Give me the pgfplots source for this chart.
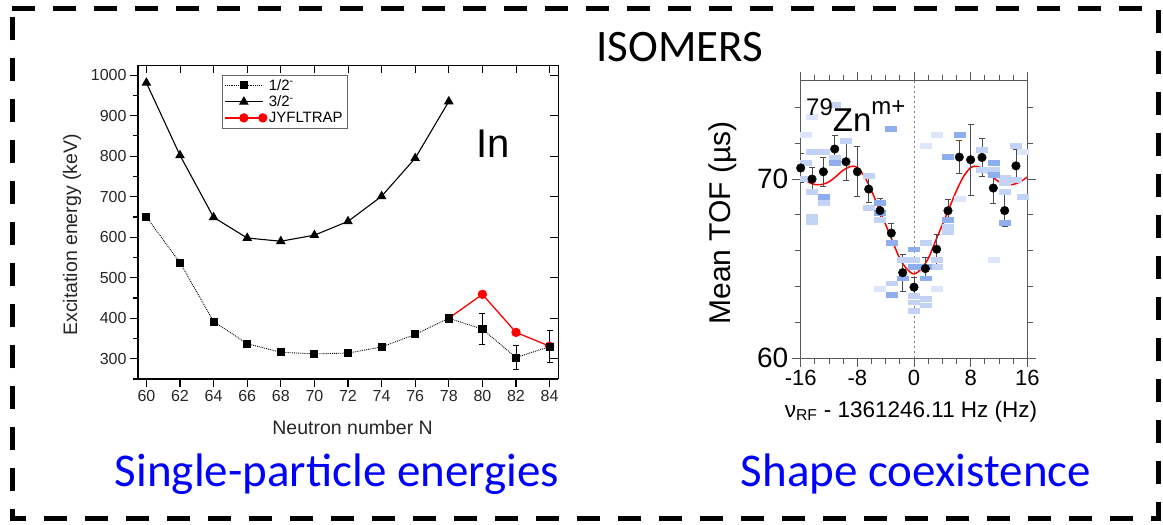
\documentclass[border=0pt]{standalone}
\usepackage{pgfplots}
\pgfplotsset{compat=1.18}
\usepackage{fontspec}
\setmainfont{Liberation Sans}
\newfontfamily\calfont{Carlito}
\definecolor{vlb}{HTML}{DDE6FA}
\definecolor{lb}{HTML}{C3D3F6}
\definecolor{mb}{HTML}{8EAEF0}
\definecolor{capblue}{HTML}{0000FF}
\begin{document}
\begin{tikzpicture}
% ---------- left plot ----------
\begin{axis}[at={(138pt,146pt)}, anchor=south west, scale only axis, width=420pt, height=314pt,
 xmin=59.5, xmax=84.5, ymin=250, ymax=1025,
 axis x line*=bottom, axis y line*=left,
 axis line style={line width=1.6pt,-},
 xtick={60,62,...,84}, xticklabels={60,62,64,66,68,70,72,74,76,78,80,82,84},
 ytick={300,400,...,1000}, yticklabels={300,400,500,600,700,800,900,1000},
 minor ytick={250,350,...,950},
 tick align=outside, major tick length=8pt, minor tick length=5pt,
 tick style={black, line width=1.2pt},
 ticklabel style={font=\fontsize{16}{16}\selectfont, text=black!85},
 xlabel={Neutron number N}, ylabel={Excitation energy (keV)},
 every axis x label/.style={at={(axis description cs:0.511,-0.178)}, anchor=base, font=\fontsize{19.5}{19.5}\selectfont, text=black!85},
 every axis y label/.style={at={(axis description cs:-0.157,0.459)}, anchor=center, rotate=90, font=\fontsize{19.5}{19.5}\selectfont, text=black!85},
 legend style={at={(0.2,0.968)}, anchor=north west, draw=black!60, font=\fontsize{15}{15}\selectfont, row sep=0pt, inner sep=2pt, cells={anchor=west}},
 legend image code/.code={\draw[mark repeat=2, mark phase=2, #1] plot coordinates {(0pt,0pt) (19pt,0pt) (38pt,0pt)};},
]
\addplot[black, line width=0.9pt, densely dotted, mark=square*, mark size=3.5pt, mark options={solid}]
 coordinates {(60,650) (62,537) (64,392) (66,337) (68,316) (70,312) (72,314) (74,329) (76,360) (78,400) (80,373) (82,303) (84,330)};
\addlegendentry{1/2\textsuperscript{-}}
\addplot[black, line width=1.1pt, mark=triangle*, mark size=4.5pt, mark options={solid}]
 coordinates {(60,981) (62,802) (64,649) (66,598) (68,590) (70,605) (72,639) (74,701) (76,795) (78,935)};
\addlegendentry{3/2\textsuperscript{-}}
\addplot[red, line width=1.3pt, mark=*, mark size=4pt, mark indices={2,3,4}]
 coordinates {(78,400) (80,459) (82,365) (84,331)};
\addlegendentry{JYFLTRAP}
\addplot[forget plot, only marks, black, mark=square*, mark size=3.5pt] coordinates {(78,400)};
\addplot[forget plot, only marks, black, mark=square*, mark size=3.5pt,
 error bars/.cd, y dir=both, y explicit, error bar style={black, line width=0.8pt},
 error mark options={rotate=90, black, mark size=3pt, line width=0.8pt}]
 coordinates {(80,373) +- (0,38) (82,303) +- (0,30) (84,330) +- (0,40)};
\end{axis}
\begin{axis}[at={(138pt,146pt)}, anchor=south west, scale only axis, width=420pt, height=314pt,
 xmin=59.5, xmax=84.5, ymin=250, ymax=1025,
 axis x line*=top, axis y line*=right, axis line style={line width=0.8pt,-},
 xtick={60,62,...,84}, xticklabels={}, ytick={300,400,...,1000}, yticklabels={},
 tick align=inside, major tick length=8pt, tick style={black, line width=1pt}]
\end{axis}

% ---------- right plot ----------
\begin{axis}[at={(800.7pt,167pt)}, anchor=south west, scale only axis, width=226.6pt, height=277.3pt,
 xmin=-16, xmax=16, ymin=60, ymax=75.5,
 axis line style={line width=0.9pt, black!65},
 tick align=outside, xtick pos=both, ytick pos=both,
 xtick={-16,-8,0,8,16}, xticklabels={-16,-8,0,8,16},
 minor xtick={-14,-12,-10,-6,-4,-2,2,4,6,10,12,14},
 ytick={60,70}, yticklabels={60,70}, minor ytick={62,64,66,68,72,74},
 major tick length=9pt, minor tick length=6pt,
 tick style={black!65, line width=0.9pt},
 xticklabel style={font=\fontsize{22}{22}\selectfont},
 yticklabel style={font=\fontsize{28}{28}\selectfont},
 xlabel={ν\textsubscript{RF} - 1361246.11 Hz (Hz)}, ylabel={Mean TOF (µs)},
 every axis x label/.style={at={(axis description cs:0.487,-0.213)}, anchor=base, font=\fontsize{22.5}{22.5}\selectfont},
 every axis y label/.style={at={(axis description cs:-0.345,0.487)}, anchor=center, rotate=90, font=\fontsize{30}{30}\selectfont},
]
\addplot[only marks, color=vlb, mark=square*, mark size=5.5pt, mark options={yscale=0.45, draw=vlb, fill=vlb}]
 coordinates {(-14.4,73.5) (3.2,72.5) (1.6,71.85) (15.3,71.55) (-4.8,63.85) (3.2,63.9) (6.4,68.93) (11.2,65.5) (-15.3,72.5)};
\addplot[only marks, color=lb, mark=square*, mark size=5.5pt, mark options={yscale=0.45, draw=lb, fill=lb}]
 coordinates {(-11.2,74.15) (-9.6,72.16) (-14.4,71.55) (-12.8,71.55) (9.6,71.64) (14.4,71.86) (11.2,70.5) (-11.2,71.2) (-6.4,70.2) (12.8,70.1) (-15.3,70.0) (-14.4,69.32) (-12.8,68.66) (-14.4,67.92) (-14.4,67.6) (-6.4,68.38) (-4.8,67.72) (1.6,66.42) (-1.6,65.5) (0,65.5) (3.2,65.5) (3.2,65.12) (-3.2,64.18) (0,63.49) (0,63.12) (0,62.65) (1.6,63.3) (1.6,62.95) (4.8,67.35) (4.8,67.07) (12.8,69.77) (12.8,69.3) (15.3,69.03) (14.4,69.96) (-15.3,70.9) (9.6,70.5)};
\addplot[only marks, color=mb, mark=square*, mark size=5.5pt, mark options={yscale=0.45, draw=mb, fill=mb}]
 coordinates {(-3.3,72.8) (6.4,72.48) (4.8,71.23) (11.2,70.9) (-11.2,70.9) (-12.8,69.0) (-4.8,68.66) (-4.8,68.14) (-3.2,66.42) (0,66.08) (-1.6,64.46) (0,65.12) (1.6,65.12) (1.6,64.46) (-3.2,63.53) (4.8,67.72) (12.8,67.54) (11.2,70.24)};
\addplot[black!50, line width=1pt, dash pattern=on 1.5pt off 3.5pt] coordinates {(0,60) (0,75.5)};
\addplot[red, line width=1.5pt, smooth, tension=0.5] coordinates {
 (-16,70.12) (-15,69.85) (-14,69.70) (-13,69.70) (-12,69.85) (-11,70.15) (-10,70.50) (-9,70.70) (-8.5,70.72) (-8,70.65) (-7,70.15) (-6,69.35) (-5,68.40) (-4,67.45) (-3,66.5) (-2,65.55) (-1,64.97) (0,64.7)
 (1,64.97) (2,65.55) (3,66.5) (4,67.45) (5,68.40) (6,69.35) (7,70.15) (8,70.65) (8.5,70.72) (9,70.70) (10,70.50) (11,70.15) (12,69.85) (13,69.70) (14,69.70) (15,69.85) (16,70.12)};
\addplot[only marks, mark=*, mark size=4.3pt, black,
 error bars/.cd, y dir=both, y explicit, error bar style={black!70, line width=0.7pt},
 error mark options={rotate=90, black!70, mark size=3pt, line width=0.7pt}]
 coordinates {(-16,70.62) +- (0,0.8) (-14.4,70.0) +- (0,0.67) (-12.8,70.41) +- (0,0.8) (-11.2,71.68) +- (0,0.78) (-9.6,70.97) +- (0,1.05) (-8,70.41) +- (0,1.4) (-6.4,69.44) +- (0,0.75) (-4.8,68.24) +- (0,0.67) (-3.2,66.98) +- (0,0.55) (-1.6,64.77) +- (0,1.05) (0,63.96) +- (0,0.55) (1.6,65.0) +- (0,0.6) (3.2,66.08) +- (0,0.84) (4.8,68.23) +- (0,0.65) (6.4,71.23) +- (0,0.93) (8,71.08) +- (0,2.0) (9.6,71.21) +- (0,1.04) (11.2,69.5) +- (0,0.84) (12.8,68.24) +- (0,0.9) (14.4,70.74) +- (0,0.93)};
\end{axis}

\node[anchor=base, inner sep=0] at (493pt,367pt) {\fontsize{40}{40}\selectfont In};
\node[anchor=base west, inner sep=0] at (806pt,393.3pt) {\fontsize{24}{24}\selectfont\raisebox{16pt}{79}\fontsize{33}{33}\selectfont Zn\fontsize{24}{24}\selectfont\raisebox{17pt}{m+}};
\draw[line width=5pt, dash pattern=on 23pt off 18pt] (12pt,516.5pt) -- (1158pt,516.5pt) -- (1158pt,6.5pt) -- (12pt,6.5pt) -- cycle;
\node[anchor=base, inner sep=0] at (680pt,463pt) {\calfont\fontsize{45}{45}\selectfont ISOMERS};
\node[anchor=base, inner sep=0, text=capblue] at (337pt,38.3pt) {\calfont\fontsize{47}{47}\selectfont Single-particle energies};
\node[anchor=base, inner sep=0, text=capblue] at (916pt,38.3pt) {\calfont\fontsize{47}{47}\selectfont Shape coexistence};
\pgfresetboundingbox
\useasboundingbox (0pt,0pt) rectangle (1163pt,525pt);
\end{tikzpicture}
\end{document}
